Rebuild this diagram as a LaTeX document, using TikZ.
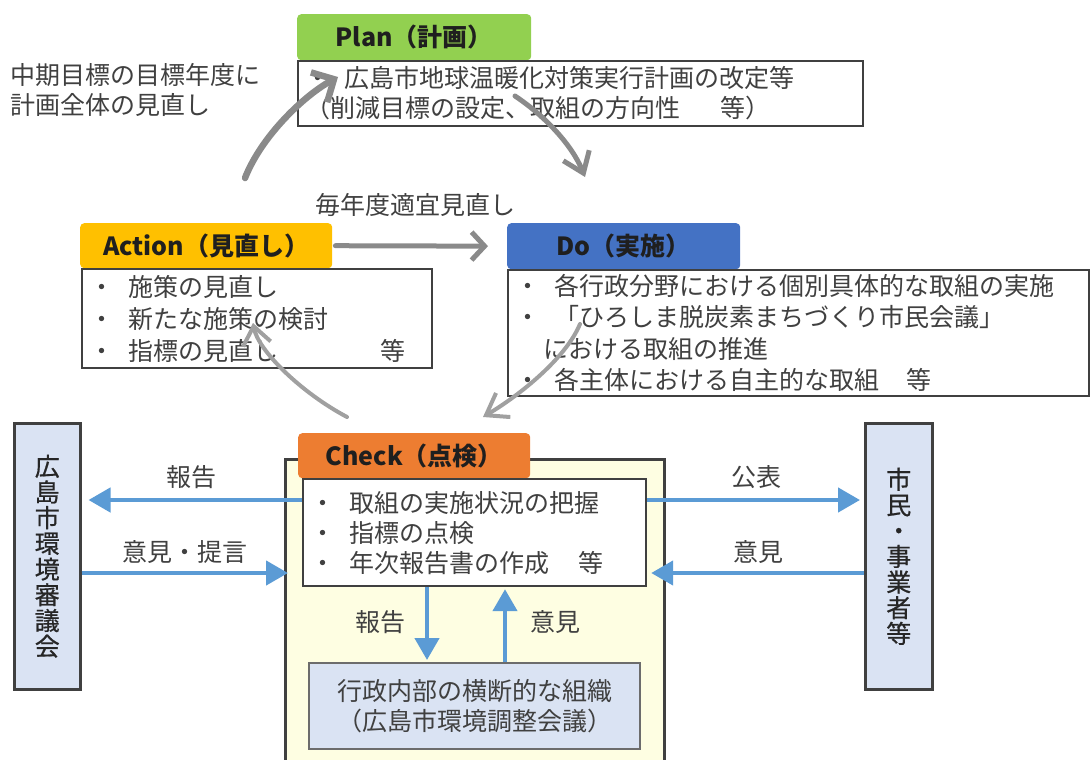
\documentclass[tikz,border=0pt]{standalone}
\usepackage{fontspec}
\setmainfont{Noto Sans CJK JP}
\newfontfamily\sidefont{Noto Sans CJK JP}[FakeBold=0.6]
\usetikzlibrary{arrows.meta}
\definecolor{bdr}{HTML}{404040}
\definecolor{txt}{HTML}{404040}
\definecolor{planC}{HTML}{92D050}
\definecolor{actC}{HTML}{FFC000}
\definecolor{doC}{HTML}{4472C4}
\definecolor{chkC}{HTML}{ED7D31}
\definecolor{sideC}{HTML}{DAE3F3}
\definecolor{yelC}{HTML}{FEFEE2}
\definecolor{arrG}{HTML}{8A8A8A}
\definecolor{arrL}{HTML}{A0A0A0}
\definecolor{arrB}{HTML}{5B9BD5}
\newcommand{\myfs}[2]{\fontsize{#1}{#2}\selectfont}
\newcommand{\bul}{\makebox[39pt][l]{・}}
\tikzset{
  hdr/.style={rounded corners=4, inner sep=0pt, anchor=north west, font=\myfs{25}{30}\bfseries, text=black!88},
  tbox/.style={draw=bdr, line width=2.2, fill=white, anchor=north west, inner xsep=7pt, inner ysep=0pt, align=left, text=txt},
  sidebox/.style={draw=bdr, line width=2.5, fill=sideC, anchor=north west, inner sep=0pt, align=center, font=\sidefont\myfs{25}{25.7}, text=black!85},
  lbl/.style={font=\myfs{25}{30}, text=txt, inner sep=0pt},
  garr/.style={draw=arrG, line cap=round},
  barr/.style={draw=arrB, line width=4.5, -{Triangle[length=22pt,width=24pt]}},
}
\begin{document}
\begin{tikzpicture}[x=1pt,y=-1pt]
\useasboundingbox (0,0) rectangle (1092,760);

% Check outer region
\node[draw=bdr, line width=2.5, fill=yelC, anchor=north west, minimum width=379, minimum height=330, inner sep=0pt] (chkO) at (284,458) {};

% Headers
\node[hdr, fill=planC, minimum width=234, minimum height=46] (planH) at (297,14) {Plan（計画）};
\node[hdr, fill=actC, minimum width=252, minimum height=45] (actH) at (80,223) {Action（見直し）};
\node[hdr, fill=doC, minimum width=233, minimum height=46] (doH) at (507,223) {Do（実施）};
\node[hdr, fill=chkC, minimum width=232, minimum height=45] (chkH) at (298,433) {Check（点検）};

% Text boxes
\node[tbox, minimum width=565, minimum height=65, text width=551, font=\myfs{25}{30}] (planB) at (297,60)
  {\bul 広島市地球温暖化対策実行計画の改定等\\\makebox[415pt][l]{（削減目標の設定、取組の方向性}等）};
\node[tbox, minimum width=350, minimum height=99, text width=336, font=\myfs{25}{32}] (actB) at (81,268)
  {\bul 施策の見直し\\\bul 新たな施策の検討\\\bul\makebox[252pt][l]{指標の見直し}等};
\node[tbox, minimum width=581, minimum height=126, text width=567, font=\myfs{25}{31.5}] (doB) at (507,269)
  {\bul 各行政分野における個別具体的な取組の実施\\\bul「ひろしま脱炭素まちづくり市民会議」\\\hspace*{28pt}における取組の推進\\\bul\makebox[352pt][l]{各主体における自主的な取組}等};
\node[tbox, minimum width=343, minimum height=107, text width=329, font=\myfs{25}{30}] (chkB) at (302,478)
  {\bul 取組の実施状況の把握\\\bul 指標の点検\\\bul\makebox[229pt][l]{年次報告書の作成}等};
\node[draw=gray!85!black, line width=2, fill=sideC, anchor=north west, minimum width=331, minimum height=86, inner sep=0pt, align=center, font=\myfs{25}{30}, text=txt] (sub) at (308,662)
  {行政内部の横断的な組織\\（広島市環境調整会議）};

% Side boxes
\node[sidebox, minimum width=66, minimum height=266] (council) at (13,422) {広\\島\\市\\環\\境\\審\\議\\会};
\node[sidebox, minimum width=67, minimum height=266] (citizen) at (864,422) {市\\民\\・\\事\\業\\者\\等};

% Free texts
\node[lbl, anchor=west, align=left] (midterm) at (10,90) {中期目標の目標年度に\\計画全体の見直し};
\node[lbl] (yearly) at (415,205) {毎年度適宜見直し};

% Gray cycle arrows
\coordinate (a1s) at (245,178);
\coordinate (a1e) at (338,77);
\draw[garr, line width=6.5, -{Straight Barb[length=17pt,width=34pt]}] (a1s) .. controls (262,135) and (305,95) .. (a1e);
\coordinate (a2s) at (515,96);
\coordinate (a2e) at (585,177);
\draw[garr, line width=5, -{Straight Barb[length=19pt,width=28pt]}] (a2s) .. controls (545,116) and (572,145) .. (a2e);
\draw[garr, line width=5, shorten <=3pt, shorten >=19pt, -{Straight Barb[length=13pt,width=28pt]}] (actH.east) -- (doH.west);
\coordinate (a3s) at (580,324);
\coordinate (a3e) at (483,417);
\draw[garr, draw=arrL, line width=4, -{Straight Barb[length=20pt,width=28pt]}] (a3s) .. controls (566,358) and (520,395) .. (a3e);
\coordinate (a4s) at (347,417);
\coordinate (a4e) at (253,323);
\draw[garr, draw=arrL, line width=4, -{Straight Barb[length=18pt,width=28pt]}] (a4s) .. controls (300,392) and (258,350) .. (a4e);

% Blue arrows
\draw[barr, shorten >=7pt] (chkB.west |- 0,500) -- (council.east |- 0,500);
\draw[barr, shorten >=14pt] (council.east |- 0,573) -- (chkB.west |- 0,573);
\draw[barr, shorten >=4pt] (chkB.east |- 0,500) -- (citizen.west |- 0,500);
\draw[barr, shorten >=4pt] (citizen.west |- 0,573) -- (chkB.east |- 0,573);
\draw[barr, shorten >=2pt] (chkB.south -| 427,0) -- (sub.north -| 427,0);
\draw[barr, shorten >=2pt] (sub.north -| 505,0) -- (chkB.south -| 505,0);

% Blue arrow labels
\node[lbl] (rep1) at (191,477) {報告};
\node[lbl] (adv) at (185,552) {意見・提言};
\node[lbl] (pub) at (756,477) {公表};
\node[lbl] (op1) at (758,552) {意見};
\node[lbl] (rep2) at (380,622) {報告};
\node[lbl] (op2) at (555,622) {意見};
\end{tikzpicture}
\end{document}
